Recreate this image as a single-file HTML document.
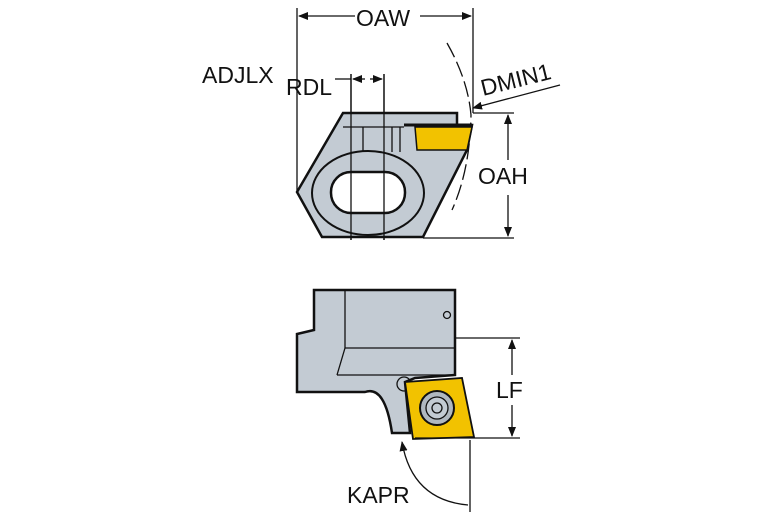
<!DOCTYPE html>
<html><head><style>body{margin:0;background:#fff}svg{display:block}text{font-family:"Liberation Sans",sans-serif;font-size:23px;fill:#111}</style></head><body>
<svg width="767" height="523" viewBox="0 0 767 523">
<defs><marker id="a" markerWidth="10" markerHeight="8" refX="9" refY="4" orient="auto" markerUnits="userSpaceOnUse"><path d="M0,0L10,4L0,8z" fill="#111"/></marker></defs>
<g stroke="#111" stroke-width="1.3" fill="none">
<!-- OAW -->
<line x1="297" y1="8" x2="297" y2="192"/><line x1="473" y1="8" x2="473" y2="113"/>
<line x1="355" y1="16" x2="299" y2="16" marker-end="url(#a)"/><line x1="420" y1="16" x2="471" y2="16" marker-end="url(#a)"/>
<!-- RDL -->
<line x1="351" y1="74" x2="351" y2="240"/><line x1="384" y1="74" x2="384" y2="240"/>
<line x1="335" y1="79" x2="351" y2="79"/>
<line x1="365" y1="79" x2="353" y2="79" marker-end="url(#a)"/><line x1="370" y1="79" x2="382" y2="79" marker-end="url(#a)"/>
<!-- OAH -->
<line x1="473" y1="113" x2="514" y2="113"/><line x1="423" y1="238" x2="514" y2="238"/>
<line x1="508" y1="160" x2="508" y2="115" marker-end="url(#a)"/><line x1="508" y1="195" x2="508" y2="236" marker-end="url(#a)"/>
<!-- DMIN1 -->
<path d="M447,43 Q468,80 471,115 Q470,170 452,210" stroke-dasharray="16,5"/>
<line x1="560" y1="85" x2="473" y2="108" marker-end="url(#a)"/>
</g>
<!-- top body -->
<path d="M343,113 L457,113 L457,125 L472,125 L467,150 L423,237 L322,237 L297,192 Z" fill="#c3cbd3" stroke="#111" stroke-width="2.5"/>
<polygon points="415,127 472,127 467,150 417,150" fill="#f2c200" stroke="#111" stroke-width="1.5"/>
<line x1="404" y1="125" x2="472" y2="125" stroke="#111" stroke-width="3"/>
<g stroke="#111" stroke-width="1.3" fill="none">
<line x1="363" y1="127" x2="363" y2="152"/><line x1="392" y1="127" x2="392" y2="152"/><line x1="400" y1="127" x2="400" y2="152"/>
<line x1="343" y1="127" x2="404" y2="127"/>
</g>
<ellipse cx="368" cy="193" rx="56" ry="42" fill="#c3cbd3" stroke="#111" stroke-width="2"/>
<rect x="331" y="172" width="74" height="41" rx="20" fill="#fff" stroke="#111" stroke-width="2.5"/>
<g stroke="#111" stroke-width="1.3"><line x1="351" y1="74" x2="351" y2="240"/><line x1="384" y1="74" x2="384" y2="240"/></g>
<!-- bottom body -->
<path d="M314,290 L455,290 L455,375 L415,378 L405,382 L410,433 L392,433 Q385,385 365,392 L297,392 L297,334 L314,330 Z" fill="#c3cbd3" stroke="#111" stroke-width="2.5"/>
<g stroke="#111" stroke-width="1.3" fill="none">
<line x1="345" y1="290" x2="345" y2="348"/><line x1="345" y1="348" x2="455" y2="348"/>
<line x1="345" y1="348" x2="337" y2="375"/><line x1="337" y1="375" x2="455" y2="375"/>
<circle cx="447" cy="315" r="3.5"/><circle cx="404" cy="384" r="7"/>
</g>
<polygon points="405,382 462,378 474,437 413,439" fill="#f2c200" stroke="#111" stroke-width="1.8"/>
<circle cx="437" cy="408" r="17" fill="#b0b8c0" stroke="#111" stroke-width="2"/>
<circle cx="437" cy="408" r="11" fill="#c3cbd3" stroke="#111" stroke-width="1.3"/>
<circle cx="437" cy="408" r="5" fill="none" stroke="#111" stroke-width="1.3"/>
<g stroke="#111" stroke-width="1.3" fill="none">
<line x1="455" y1="338" x2="520" y2="338"/><line x1="415" y1="438" x2="520" y2="438"/>
<line x1="512" y1="375" x2="512" y2="340" marker-end="url(#a)"/><line x1="512" y1="405" x2="512" y2="436" marker-end="url(#a)"/>
<line x1="470" y1="440" x2="470" y2="512"/>
<path d="M468,505 Q412,500 402,442" marker-end="url(#a)"/>
</g>
<text x="356" y="26">OAW</text>
<text x="202" y="83">ADJLX</text>
<text x="286" y="95">RDL</text>
<text x="483" y="96" transform="rotate(-14 483 96)">DMIN1</text>
<text x="478" y="184">OAH</text>
<text x="496" y="398">LF</text>
<text x="347" y="503">KAPR</text>
</svg>
</body></html>
